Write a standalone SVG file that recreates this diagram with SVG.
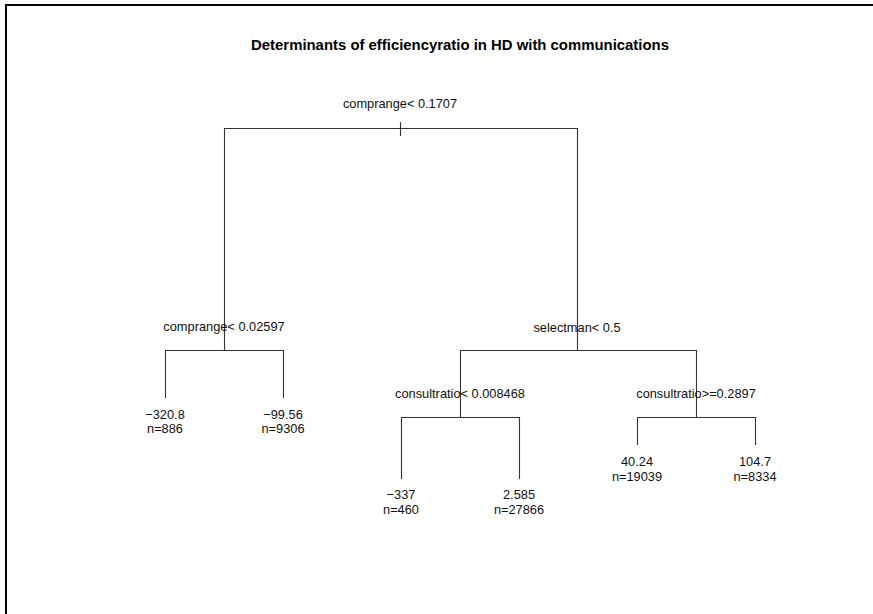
<svg xmlns="http://www.w3.org/2000/svg" width="873" height="614" viewBox="0 0 873 614">
  <style>
    .frame { fill: none; stroke: #000; stroke-width: 2; }
    .edge { fill: none; stroke: #333; stroke-width: 1.1; }
    .title { font-family: "Liberation Sans", Arial, sans-serif; font-size: 14.9px; font-weight: bold; fill: #000; text-anchor: middle; }
    .lbl { font-family: "Liberation Sans", Arial, sans-serif; font-size: 12.8px; fill: #111; text-anchor: middle; }
  </style>
  <rect x="0" y="0" width="873" height="614" fill="#fff"/>
  <!-- plot frame (extends past the right and bottom edges) -->
  <rect class="frame" x="6" y="5" width="900" height="700"/>
  <text class="title" x="460" y="50">Determinants of efficiencyratio in HD with communications</text>

  <!-- tree branches -->
  <g id="connectors">
    <path class="edge" d="M224.5,350 V128.5 H577.5 V350"/>
    <path class="edge" d="M400.5,122 V136"/>
    <path class="edge" d="M165.5,398 V350.5 H283.5 V398"/>
    <path class="edge" d="M460.5,417 V350.5 H696.5 V417"/>
    <path class="edge" d="M401.5,479 V417.5 H519.5 V479"/>
    <path class="edge" d="M637.5,445 V417.5 H755.5 V445"/>
  </g>

  <!-- split nodes -->
  <g id="node-root"><text class="lbl" x="400" y="108">comprange&lt; 0.1707</text></g>
  <g id="node-left"><text class="lbl" x="224" y="331">comprange&lt; 0.02597</text></g>
  <g id="node-right"><text class="lbl" x="577" y="332">selectman&lt; 0.5</text></g>
  <g id="node-right-left"><text class="lbl" x="460" y="398">consultratio&lt; 0.008468</text></g>
  <g id="node-right-right"><text class="lbl" x="696" y="398">consultratio&gt;=0.2897</text></g>

  <!-- leaves -->
  <g id="leaf-1"><text class="lbl" x="165" y="419">−320.8</text><text class="lbl" x="165" y="433">n=886</text></g>
  <g id="leaf-2"><text class="lbl" x="283" y="419">−99.56</text><text class="lbl" x="283" y="433">n=9306</text></g>
  <g id="leaf-3"><text class="lbl" x="401" y="499">−337</text><text class="lbl" x="401" y="514">n=460</text></g>
  <g id="leaf-4"><text class="lbl" x="519" y="499">2.585</text><text class="lbl" x="519" y="514">n=27866</text></g>
  <g id="leaf-5"><text class="lbl" x="637" y="466">40.24</text><text class="lbl" x="637" y="481">n=19039</text></g>
  <g id="leaf-6"><text class="lbl" x="755" y="466">104.7</text><text class="lbl" x="755" y="481">n=8334</text></g>
</svg>
